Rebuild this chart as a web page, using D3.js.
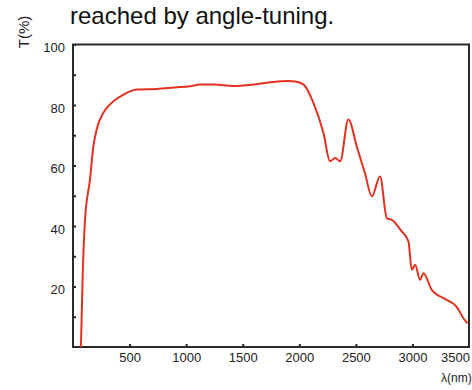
<!DOCTYPE html>
<html>
<head>
<meta charset="utf-8">
<script src="https://cdn.jsdelivr.net/npm/d3@7"></script>
<style>
  body { margin: 0; background: #fff; }
  svg { display: block; }
</style>
</head>
<body>
<svg width="472" height="390"></svg>
<script>
// wavelength (nm) and transmittance (%)
const wavelength = [70, 86, 106, 150, 180, 209, 268, 356, 445, 563, 740, 900, 1035, 1123, 1250, 1415, 1600, 1768, 1900, 1963,
  2037, 2125, 2213, 2272, 2317, 2361, 2434, 2508, 2580, 2641, 2714, 2774, 2818, 2900, 2965, 2994, 3024, 3068, 3097,
  3171, 3303, 3391, 3451, 3486];
const transmittance = [0, 24, 42, 55.3, 66.3, 71.9, 77.4, 81.2, 83.4, 85.1, 85.3, 85.8, 86.2, 86.8, 86.8, 86.3, 86.8, 87.6, 87.9, 87.8,
  86.8, 80.7, 70.8, 61.4, 62.5, 61.4, 75.2, 66.3, 57.5, 49.8, 56.4, 42.5, 42, 38.5, 34.9, 25.5, 27.2, 22.2, 24.4,
  18.9, 15.6, 13.3, 9.5, 7.8];
const yTicks = [10, 20, 30, 40, 50, 60, 70, 80, 90, 100];
const xTicks = [500, 1000, 1500, 2000, 2500, 3000];

const data = wavelength.map((w, i) => ({w: w, t: transmittance[i]}));

const svg = d3.select("svg"),
      plot = {left: 73, right: 469, top: 44.5, bottom: 347};

const x = d3.scaleLinear().domain([0, 3500]).range([plot.left, plot.right]);
const y = d3.scaleLinear().domain([0, 100]).range([plot.bottom, plot.top]);

// title fragment at the top
svg.append("text")
   .attr("x", 70)
   .attr("y", 24)
   .style("font", "24px 'Liberation Sans', Arial, sans-serif")
   .attr("fill", "#111")
   .text("reached by angle-tuning.");

// y axis: ticks every 10, labels every 20
const yAxis = svg.append("g")
   .attr("transform", `translate(${plot.left},0)`)
   .call(d3.axisLeft(y).tickValues(yTicks).tickSizeInner(-3).tickSizeOuter(0).tickPadding(8)
     .tickFormat(d => d % 20 === 0 ? d : ""));
yAxis.select(".domain").remove();
yAxis.selectAll("line").attr("stroke", "#222").attr("stroke-width", 2);
yAxis.selectAll("text")
   .attr("dy", "0.55em")
   .attr("fill", "#222")
   .style("font", "13px 'Liberation Sans', Arial, sans-serif");

// x axis
const xAxis = svg.append("g")
   .attr("transform", `translate(0,${plot.bottom})`)
   .call(d3.axisBottom(x).tickValues(xTicks).tickSizeInner(-3).tickSizeOuter(0).tickPadding(6)
     .tickFormat(d3.format("d")));
xAxis.select(".domain").remove();
xAxis.selectAll("line").attr("stroke", "#222").attr("stroke-width", 2);
xAxis.selectAll("text")
   .attr("fill", "#222")
   .style("font", "13px 'Liberation Sans', Arial, sans-serif");

// last x label sits against the right edge
svg.append("text")
   .attr("x", x(3500) + 1)
   .attr("y", plot.bottom + 6)
   .attr("dy", "0.71em")
   .attr("text-anchor", "end")
   .attr("fill", "#222")
   .style("font", "13px 'Liberation Sans', Arial, sans-serif")
   .text("3500");

// axis titles
svg.append("text")
   .attr("x", 441)
   .attr("y", 382)
   .attr("fill", "#222")
   .style("font", "12px 'Liberation Sans', Arial, sans-serif")
   .text("λ(nm)");

svg.append("text")
   .attr("transform", "translate(29,32) rotate(-90)")
   .attr("text-anchor", "middle")
   .attr("fill", "#222")
   .style("font", "15px 'Liberation Sans', Arial, sans-serif")
   .text("T(%)");

// frame
svg.append("rect")
   .attr("x", plot.left)
   .attr("y", plot.top)
   .attr("width", plot.right - plot.left)
   .attr("height", plot.bottom - plot.top)
   .attr("fill", "none")
   .attr("stroke", "#2a2a2a")
   .attr("stroke-width", 2);

// transmission curve (smooth through the read points)
const line = d3.line()
   .curve(d3.curveMonotoneX)
   .x(d => x(d.w))
   .y(d => y(d.t));

svg.append("path")
   .datum(data)
   .attr("fill", "none")
   .attr("stroke", "#e2321f")
   .attr("stroke-width", 2)
   .attr("stroke-linejoin", "round")
   .attr("d", line);
</script>
</body>
</html>
